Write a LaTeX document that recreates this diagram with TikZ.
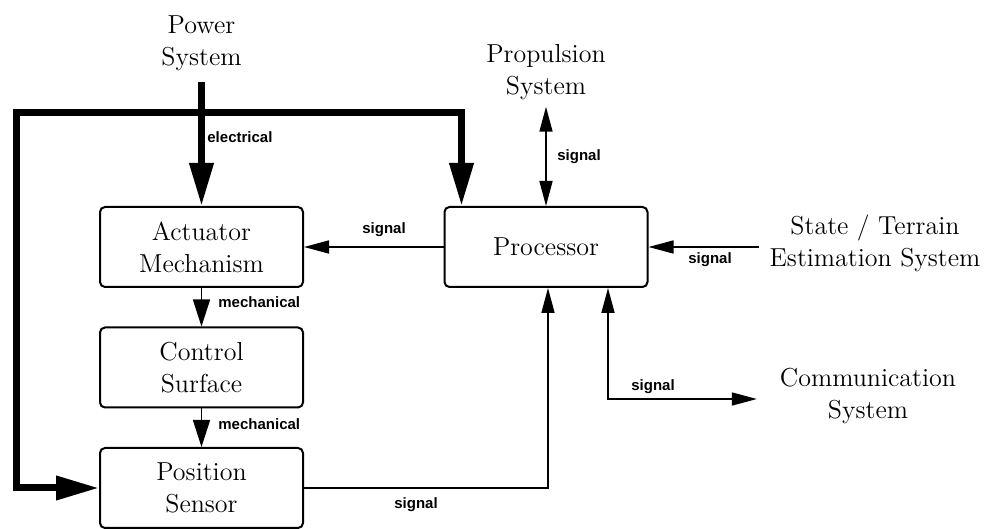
\documentclass[tikz,border=0pt]{standalone}
\usepackage{fontspec}
\newfontfamily\lblfont{Liberation Sans}
\usepackage{tikz}
\usetikzlibrary{arrows.meta}
\tikzset{
  block/.style={draw,line width=1pt,rounded corners=2.5pt,minimum width=101.5pt,minimum height=40pt,
    align=center,inner sep=0pt,font=\fontsize{13}{16}\selectfont},
  ext/.style={align=center,font=\fontsize{13}{16}\selectfont},
  lbl/.style={font=\lblfont\bfseries\fontsize{7.5}{9}\selectfont,inner sep=0pt},
  sig/.style={line width=0.8pt,-{Triangle[length=12.5pt,width=6.5pt]}},
  sigboth/.style={line width=0.8pt,{Triangle[length=12.5pt,width=6.5pt]}-{Triangle[length=12.5pt,width=6.5pt]}},
  mech/.style={line width=0.8pt,-{Triangle[length=13.5pt,width=8.5pt]}},
  power/.style={line width=3.5pt,-{Triangle[length=21.5pt,width=11.5pt]}},
}

\begin{document}
\begin{tikzpicture}[x=0.5pt,y=-0.5pt]
\useasboundingbox (0,0) rectangle (992,529);
% outside systems
\node[ext] (pwr) at (201.5,43) {Power\\System};
\node[ext] (prop) at (546,72) {Propulsion\\System};
\node[ext] (est) at (875,243) {State / Terrain\\Estimation System};
\node[ext] (com) at (868,396) {Communication\\System};
% blocks
\node[block] (act) at (201.5,247) {Actuator\\Mechanism};
\node[block] (ctl) at (201.5,367.5) {Control\\Surface};
\node[block] (pos) at (201.5,488) {Position\\Sensor};
\node[block] (proc) at (546,247) {Processor};
% power bus
\coordinate (jn) at (201.5,113);
\coordinate (tl) at (16,113);
\coordinate (bl) at (16,488);
\draw[power] ([yshift=-2pt]pwr.south) -- (act.north);
\draw[power] (jn) -| ([xshift=9pt]proc.north west);
\draw[power] (jn) -- (tl) -- (bl) -- (pos.west);
% signals
\draw[sigboth] (proc.north |- prop.south) -- (proc.north);
\draw[sig] (proc.west) -- (act.east);
\draw[sig] ([xshift=-2pt]est.west |- proc.east) -- (proc.east);
\coordinate (cm) at (608,399);
\draw[sigboth] (proc.south -| cm) -- (cm) -- ([xshift=-8pt]com.west |- cm);
\coordinate (ps) at (548,488);
\draw[sig] (pos.east) -- (ps) -- (proc.south -| ps);
\draw[mech] (act.south) -- (ctl.north);
\draw[mech] (ctl.south) -- (pos.north);
% labels
\node[lbl,anchor=west] (lel) at (207,137) {electrical};
\node[lbl,anchor=west] (lm1) at (218,302) {mechanical};
\node[lbl,anchor=west] (lm2) at (218,424) {mechanical};
\node[lbl] (ls1) at (384,230) {signal};
\node[lbl,anchor=west] (ls2) at (557,157) {signal};
\node[lbl] (ls3) at (710,260) {signal};
\node[lbl] (ls4) at (653,387) {signal};
\node[lbl] (ls5) at (416,505) {signal};
\end{tikzpicture}
\end{document}
